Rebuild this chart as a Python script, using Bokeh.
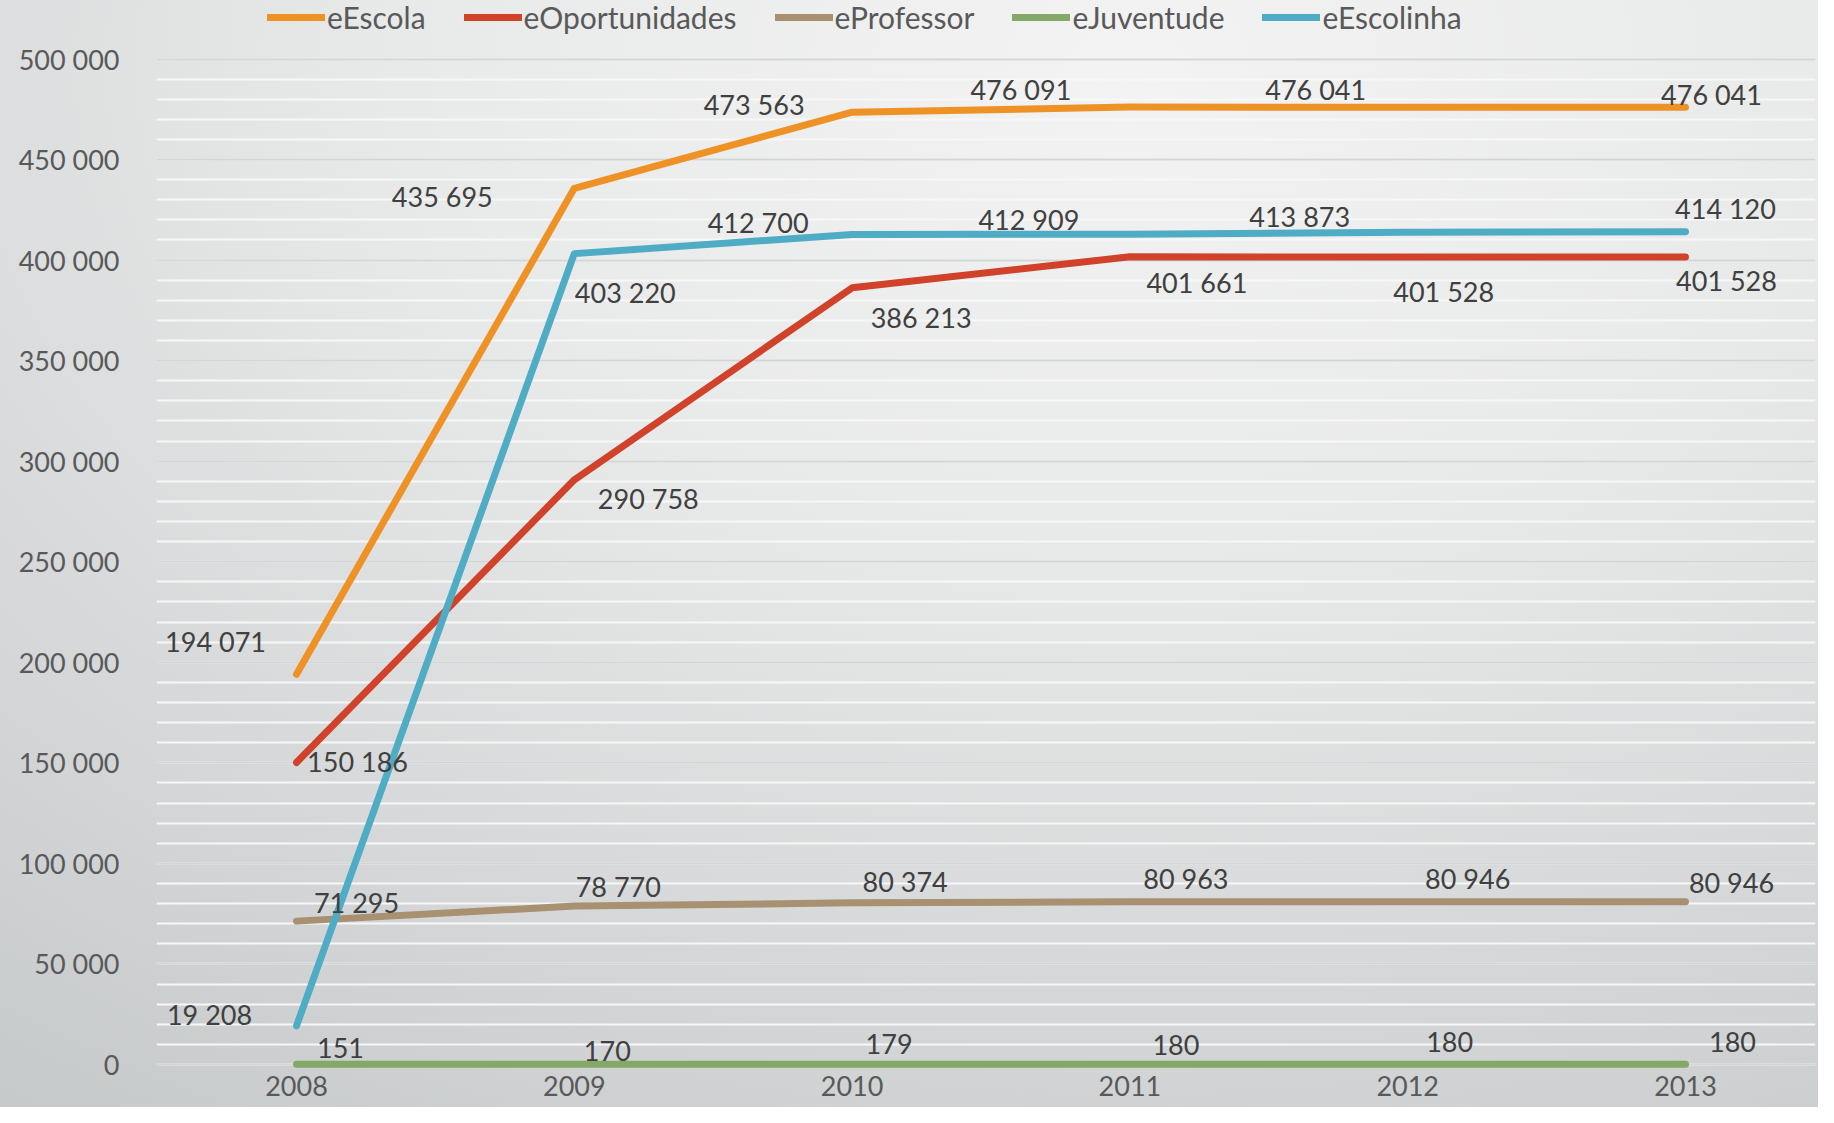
from bokeh.plotting import figure
from bokeh.models import (ColumnDataSource, Range1d, FixedTicker, Legend, LegendItem,
                          CustomJSTickFormatter)
from bokeh.embed import file_html
from bokeh.resources import INLINE
from bokeh.core.properties import value

# ---------------- data ----------------
years = [2008, 2009, 2010, 2011, 2012, 2013]
series_names = ["eEscola", "eOportunidades", "eProfessor", "eJuventude", "eEscolinha"]
e_escola = [194071, 435695, 473563, 476091, 476041, 476041]
e_oportunidades = [150186, 290758, 386213, 401661, 401528, 401528]
e_professor = [71295, 78770, 80374, 80963, 80946, 80946]
e_juventude = [151, 170, 179, 180, 180, 180]
e_escolinha = [19208, 403220, 412700, 412909, 413873, 414120]
y_ticks = list(range(0, 500001, 50000))
y_minor_ticks = list(range(0, 500001, 10000))

series_values = [e_escola, e_oportunidades, e_professor, e_juventude, e_escolinha]

# ---------------- styling / layout ----------------
colors = ["#EE9226", "#D0422A", "#A89070", "#83A868", "#4FACC5"]
# data-label offsets in screen pixels (dx, dy; dy positive = down)
label_offsets = [
    [(-81, -33), (-132, 8), (-98, -8), (-109, -18), (-92, -18), (26, -13)],
    [(61, -1), (74, 19), (69, 30), (67, 26), (36, 34), (41, 23)],
    [(60, -19), (44, -20), (53, -21), (56, -23), (60, -23), (46, -19)],
    [(44, -16), (33, -13), (37, -20), (46, -19), (42, -22), (47, -22)],
    [(-87, -11), (51, 39), (-94, -12), (-101, -15), (-108, -16), (40, -23)],
]

FONT = "Lato"
TICK_COLOR = "#595959"
LABEL_COLOR = "#404040"


def fmt(v):
    return f"{v:,}".replace(",", " ")


p = figure(width=1818, height=1107, output_backend="svg", toolbar_location=None,
           x_range=Range1d(2007.496, 2013.468), y_range=Range1d(-2486, 529090),
           min_border_left=156, min_border_right=3, min_border_top=0,
           min_border_bottom=38)
p.background_fill_alpha = 0
p.border_fill_alpha = 0
p.outline_line_color = None
p.styles = {"background": "radial-gradient(ellipse 115% 125% at 62% 6%, #f3f3f3 0%, #e8e9e9 35%, #d6d8d9 65%, #c2c5c6 100%)"}

# axes
p.yaxis.ticker = FixedTicker(ticks=y_ticks, minor_ticks=y_minor_ticks)
p.yaxis.formatter = CustomJSTickFormatter(code="return tick.toFixed(0).replace(/\\B(?=(\\d{3})+(?!\\d))/g, ' ');")
p.xaxis.ticker = FixedTicker(ticks=years)
for ax in (p.xaxis[0], p.yaxis[0]):
    ax.axis_line_color = None
    ax.major_tick_line_color = None
    ax.minor_tick_line_color = None
    ax.major_tick_out = 0
    ax.minor_tick_out = 0
    ax.major_label_text_font = FONT
    ax.major_label_text_font_size = "27px"
    ax.major_label_text_color = TICK_COLOR
p.yaxis.major_label_standoff = 37
p.xaxis.major_label_standoff = 6

# grid
p.xgrid.grid_line_color = None
p.ygrid.grid_line_color = "#d3d5d6"
p.ygrid.grid_line_width = 2
p.ygrid.minor_grid_line_color = "#f7f7f7"
p.ygrid.minor_grid_line_width = 2

# lines
items = []
for name, vals, col in zip(series_names, series_values, colors):
    r = p.line(years, vals, line_color=col, line_width=7, line_cap="round", line_join="round")
    items.append(LegendItem(label=name, renderers=[r]))

# data labels
for vals, offs in zip(series_values, label_offsets):
    src = ColumnDataSource(dict(
        x=years, y=vals, t=[fmt(v) for v in vals],
        xo=[o[0] for o in offs], yo=[o[1] for o in offs]))
    p.text(x="x", y="y", text="t", x_offset="xo", y_offset="yo", source=src,
           text_font=value(FONT), text_font_size="27px", text_color=LABEL_COLOR,
           text_align="center", text_baseline="middle")

legend = Legend(items=items, orientation="horizontal", location=(111, 1034),
                glyph_width=58, glyph_height=30, label_standoff=2, spacing=38,
                label_text_font=FONT, label_text_font_size="30px",
                label_text_color=TICK_COLOR, background_fill_alpha=0,
                border_line_alpha=0, padding=0, margin=0, label_height=30)
p.add_layout(legend)

open("out.html", "w").write(file_html(p, INLINE))
